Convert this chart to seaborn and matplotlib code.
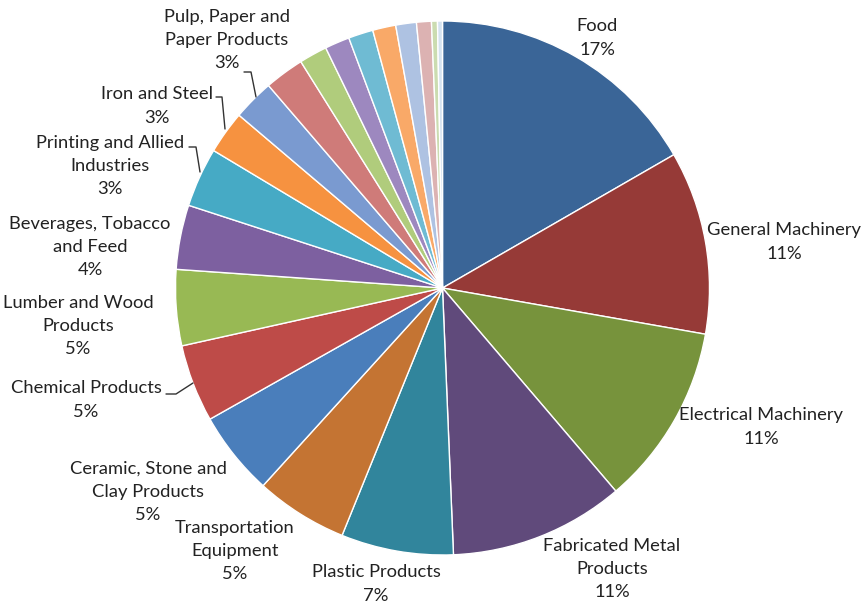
import matplotlib
matplotlib.use("Agg")
import matplotlib.pyplot as plt
import seaborn as sns

categories = ["Food", "General Machinery", "Electrical Machinery", "Fabricated Metal\nProducts",
              "Plastic Products", "Transportation\nEquipment", "Ceramic, Stone and\nClay Products",
              "Chemical Products", "Lumber and Wood\nProducts", "Beverages, Tobacco\nand Feed",
              "Printing and Allied\nIndustries", "Iron and Steel", "Pulp, Paper and\nPaper Products",
              "", "", "", "", "", "", "", "", ""]
values = [16.7, 11.1, 11.0, 10.6, 6.8, 5.6, 5.1, 4.7, 4.6, 3.9, 3.6, 2.6, 2.5,
          2.4, 1.7, 1.5, 1.5, 1.4, 1.25, 0.9, 0.36, 0.3]
pct_labels = ["17%", "11%", "11%", "11%", "7%", "5%", "5%", "5%", "5%", "4%", "3%", "3%", "3%"]
colors = ["#3A6597", "#963A37", "#77933C", "#604A7B", "#31859C", "#C47433", "#4A7EBB",
          "#BE4B48", "#98B954", "#7D60A0", "#46AAC5", "#F69240", "#7A9AD0",
          "#CF7B79", "#B0CC7C", "#9D88BF", "#6FBBD3", "#F9A968", "#AEC2E2",
          "#DCB2B2", "#CBDCB0", "#D4E2F0"]

sns.set_theme(style="white")
plt.rcParams['font.family'] = ['Lato', 'DejaVu Sans']

W, H = 866, 608
fig = plt.figure(figsize=(W / 100, H / 100), dpi=100)
ax = fig.add_axes([0, 0, 1, 1])

pal = sns.color_palette(colors)
ax.pie(values, colors=pal, startangle=90, counterclock=False,
       center=(442.5, H - 288), radius=267,
       wedgeprops=dict(edgecolor="white", linewidth=1.0), frame=True)
ax.set_xlim(0, W)
ax.set_ylim(0, H)
ax.set_aspect("equal")
ax.axis("off")

# label positions (pixel coords of text centres)
label_pos = [(597, 38), (784, 242), (761, 427), (612, 569), (376, 584), (235, 551),
             (148, 492), (86, 400), (78, 326), (90, 247), (110, 166), (157, 106), (227, 40)]
for i, (x, y) in enumerate(label_pos):
    ax.text(x, H - y, categories[i] + "\n" + pct_labels[i], ha="center", va="center",
            fontsize=13.2, color="#222222", linespacing=1.55)

# leader lines
leaders = [
    [(166, 394), (176, 394), (193, 383)],
    [(244, 72), (251, 72), (256, 97)],
    [(216, 97), (222, 97), (225, 129)],
    [(189, 147), (196, 147), (200, 172)],
]
for pts in leaders:
    xs = [p[0] for p in pts]
    ys = [H - p[1] for p in pts]
    ax.plot(xs, ys, color="#333333", linewidth=1.0)

fig.savefig("out.png", dpi=100, facecolor="white")
